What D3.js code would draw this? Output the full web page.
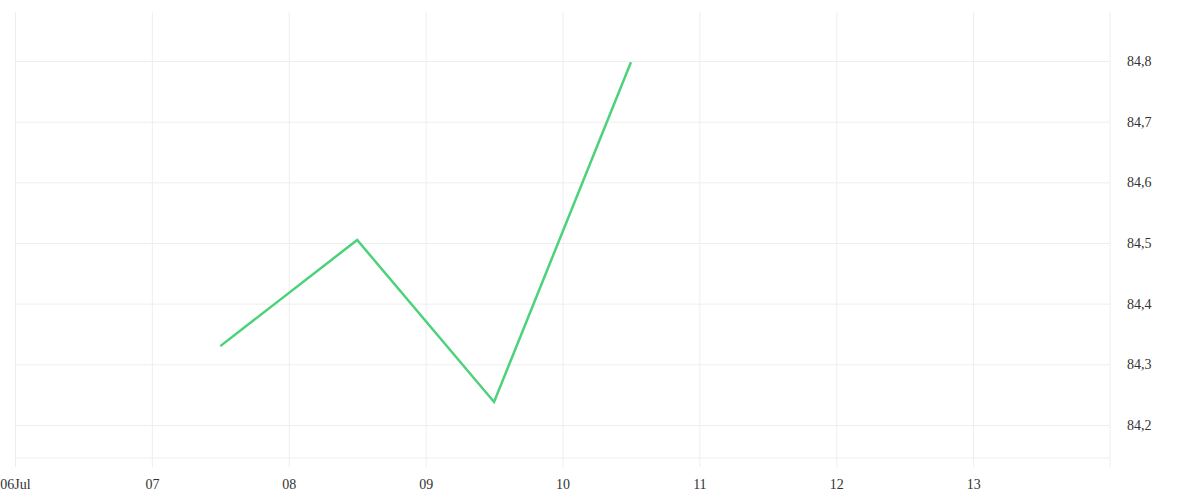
<!DOCTYPE html>
<html>
<head>
<meta charset="utf-8">
<script src="https://cdn.jsdelivr.net/npm/d3@7"></script>
<style>
  body { margin: 0; background: #fff; }
  .tick text { font-family: "Liberation Serif", serif; font-size: 14px; fill: #333; }
</style>
</head>
<body>
<div id="chart"></div>
<script>
// data
dates = ['2023-07-07T12:00', '2023-07-08T12:00', '2023-07-09T12:00', '2023-07-10T12:00']
values = [84.33, 84.505, 84.238, 84.798]
yTicks = [84.2, 84.3, 84.4, 84.5, 84.6, 84.7, 84.8]

svgWidth = 1200
svgHeight = 500

margin = { top: 12, left: 15, right: 90, bottom: 42 }

width = svgWidth - margin.left - margin.right
height = svgHeight - margin.top - margin.bottom

parseTime = d3.timeParse('%Y-%m-%dT%H:%M')
points = dates.map((d, i) => ({ date: parseTime(d), value: values[i] }))

svg = d3.select('#chart')
        .append('svg')
        .attr('width', svgWidth)
        .attr('height', svgHeight)

chartGroup = svg.append('g')
                .attr('transform', `translate(${margin.left},${margin.top})`)

xScale = d3.scaleTime()
           .domain([parseTime('2023-07-06T00:00'), parseTime('2023-07-14T00:00')])
           .range([0, width])
yScale = d3.scaleLinear()
           .domain([84.1456, 84.8808])
           .range([height, 0])

fmtDay = d => d3.timeFormat('%d')(d) + (d.getDate() === 6 ? 'Jul' : '')
fmtVal = d => d3.format('.1f')(d).replace('.', ',')

// vertical grid + bottom labels
bottomAxis = d3.axisBottom(xScale)
               .tickValues(d3.timeDay.range(parseTime('2023-07-06T00:00'), parseTime('2023-07-14T00:00')))
               .tickSize(-height - 9)
               .tickFormat(fmtDay)
               .tickPadding(12)

chartGroup.append('g')
          .attr('transform', `translate(0,${height + 9})`)
          .call(bottomAxis)
          .call(g => g.select('.domain').remove())
          .call(g => g.selectAll('.tick line').attr('stroke', '#eeeeee'))

// horizontal grid + right labels
rightAxis = d3.axisRight(yScale)
              .tickValues(yTicks)
              .tickSize(-width)
              .tickFormat(fmtVal)
              .tickPadding(17)

chartGroup.append('g')
          .attr('transform', `translate(${width},0)`)
          .call(rightAxis)
          .call(g => g.select('.domain').remove())
          .call(g => g.selectAll('.tick line').attr('stroke', '#eeeeee'))

// bottom border line and right edge
chartGroup.append('line')
          .attr('x1', 0).attr('x2', width)
          .attr('y1', height).attr('y2', height)
          .attr('stroke', '#eeeeee')
chartGroup.append('line')
          .attr('x1', width).attr('x2', width)
          .attr('y1', 0).attr('y2', height + 9)
          .attr('stroke', '#eeeeee')

line = d3.line()
         .x(d => xScale(d.date))
         .y(d => yScale(d.value))

chartGroup.append('path')
          .datum(points)
          .attr('d', line)
          .attr('fill', 'none')
          .attr('stroke', '#4cd27a')
          .attr('stroke-width', 2.5)
</script>
</body>
</html>
